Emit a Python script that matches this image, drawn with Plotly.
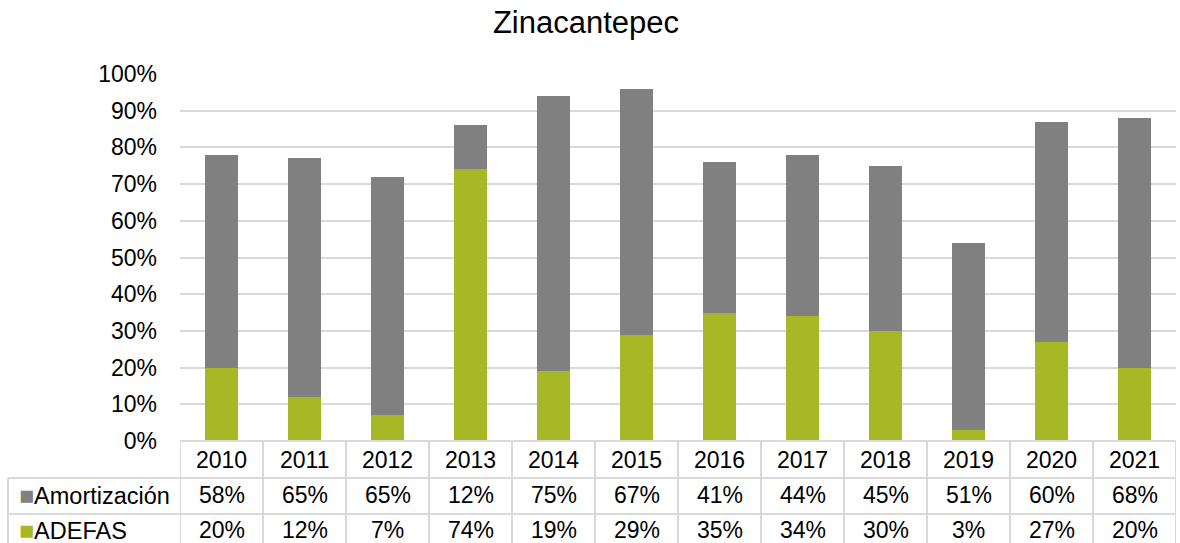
import plotly.graph_objects as go

years = ["2010", "2011", "2012", "2013", "2014", "2015", "2016", "2017", "2018", "2019", "2020", "2021"]
adefas = [20, 12, 7, 74, 19, 29, 35, 34, 30, 3, 27, 20]
amortizacion = [58, 65, 65, 12, 75, 67, 41, 44, 45, 51, 60, 68]
series_names = ["Amortización", "ADEFAS"]
tick_vals = [0, 10, 20, 30, 40, 50, 60, 70, 80, 90, 100]

GREEN = "#A7B827"
GRAY = "#808080"
GRID = "#D9D9D9"
FONT = "Liberation Sans, Arial, sans-serif"

W, H = 1180, 543
# target plot area in screenshot pixels
PL, PR, PT, PB = 180, 1176, 74, 441
L = PL
T = PT
R = W - PR
B = H - PB
PH = PB - PT
PW = PR - PL


def py(p):
    return (PB - p) / PH


def px(p):
    return (p - PL) / PW


fig = go.Figure()
fig.add_trace(go.Bar(x=years, y=[v / 100 for v in adefas], name="ADEFAS",
                     marker=dict(color=GREEN, line=dict(width=0)), width=0.39))
fig.add_trace(go.Bar(x=years, y=[v / 100 for v in amortizacion], name="Amortización",
                     marker=dict(color=GRAY, line=dict(width=0)), width=0.39))

shapes = []
ann = []
row_y = [441, 478, 514, 550]
shapes.append(dict(type="line", xref="paper", yref="paper", x0=0, x1=1, y0=py(441), y1=py(441),
                   line=dict(color=GRID, width=2)))
for yy in row_y[1:3]:
    shapes.append(dict(type="line", xref="paper", yref="paper", x0=px(8), x1=1, y0=py(yy), y1=py(yy),
                       line=dict(color=GRID, width=2)))
shapes.append(dict(type="line", xref="paper", yref="paper", x0=px(8), x1=px(8), y0=py(478), y1=py(560),
                   line=dict(color=GRID, width=2)))
for i in range(len(years) + 1):
    shapes.append(dict(type="line", xref="x", yref="paper", x0=i - 0.5, x1=i - 0.5, y0=py(441), y1=py(560),
                       line=dict(color=GRID, width=2)))

centers = [460, 495, 530]
rows = [years, [f"{v}%" for v in amortizacion], [f"{v}%" for v in adefas]]
for r, vals in enumerate(rows):
    for i, t in enumerate(vals):
        ann.append(dict(x=i, xref="x", y=py(centers[r]), yref="paper", text=t, showarrow=False,
                        font=dict(size=23, color="black", family=FONT), xanchor="center", yanchor="middle"))

legend_colors = [GRAY, GREEN]
for k, name in enumerate(series_names):
    ann.append(dict(x=px(17), xref="paper", y=py(centers[k + 1]), yref="paper",
                    text=f"<span style='color:{legend_colors[k]};font-size:25px'>■</span>{name}", showarrow=False,
                    font=dict(size=23.5, color="black", family=FONT), xanchor="left", yanchor="middle"))

fig.update_layout(
    width=W, height=H,
    margin=dict(l=L, r=R, t=T, b=B),
    paper_bgcolor="white", plot_bgcolor="white",
    barmode="stack", showlegend=False,
    title=dict(text="Zinacantepec", x=586 / W, xanchor="center", y=1 - 22 / H, yanchor="middle",
               font=dict(size=31, color="black", family=FONT)),
    xaxis=dict(type="category", range=[-0.5, len(years) - 0.5], showticklabels=False, showgrid=False,
               zeroline=False, showline=False, fixedrange=True),
    yaxis=dict(range=[0, 1], tickvals=[v / 100 for v in tick_vals], ticktext=[f"{v}%" for v in tick_vals],
               showgrid=True, gridcolor=GRID, gridwidth=2, zeroline=False, showline=False,
               ticks="", ticklabelstandoff=22, tickfont=dict(size=23, color="black", family=FONT)),
    shapes=shapes, annotations=ann,
)
fig.write_html("out.html", config={"displayModeBar": False},
               post_script="document.body.style.margin='0';document.body.style.overflow='hidden';")
